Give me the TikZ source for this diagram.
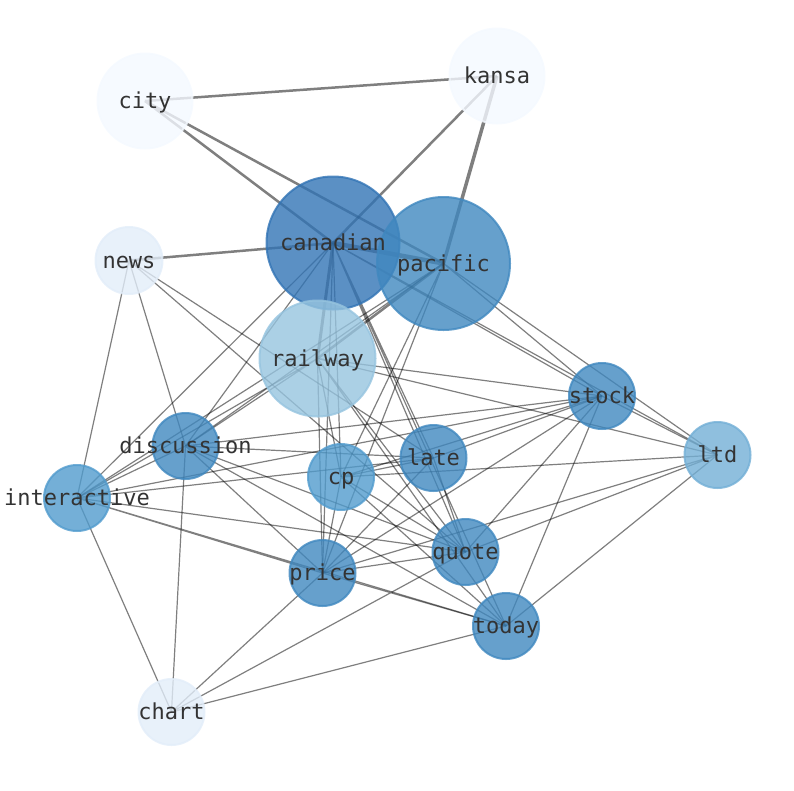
\documentclass[tikz,border=0pt]{standalone}
\usepackage{xcolor}
\usepackage{fontspec}
\setmonofont{DejaVu Sans Mono}
\usepackage{tikz}
\usetikzlibrary{backgrounds}

\definecolor{wordDark}{RGB}{50,116,181}
\definecolor{wordMid}{RGB}{64,136,191}
\definecolor{wordSoft}{RGB}{81,155,205}
\definecolor{wordLight}{RGB}{115,175,214}
\definecolor{wordPale}{RGB}{150,196,223}
\definecolor{wordFaint}{RGB}{226,237,249}
\definecolor{wordWhite}{RGB}{244,249,255}

\begin{document}
\begin{tikzpicture}[x=1pt,y=-1pt,
    word/.style={circle, inner sep=0pt, line width=2pt, fill opacity=0.8, draw opacity=0.8},
    tag/.style={inner sep=0pt, yshift=-4pt, text=black!80, font=\ttfamily\fontsize{22}{22}\selectfont, text height=0.95em, text depth=0.22em},
    link/.style={draw=black, draw opacity=0.5, line width=1.2pt},
    heavy/.style={draw=black, draw opacity=0.5, line width=2.5pt}]

    \useasboundingbox (0,0) rectangle (794,790);

    % words
    \node [word, minimum size=95, fill=wordWhite, draw=wordWhite] (city) at (145,101) {};
    \node [word, minimum size=95, fill=wordWhite, draw=wordWhite] (kansa) at (497,76) {};
    \node [word, minimum size=133, fill=wordDark, draw=wordDark] (canadian) at (333,243) {};
    \node [word, minimum size=133, fill=wordMid, draw=wordMid] (pacific) at (443.5,263.5) {};
    \node [word, minimum size=67, fill=wordFaint, draw=wordFaint] (news) at (129,260.5) {};
    \node [word, minimum size=116, fill=wordPale, draw=wordPale] (railway) at (317.5,358.5) {};
    \node [word, minimum size=66, fill=wordMid, draw=wordMid] (stock) at (602,396) {};
    \node [word, minimum size=66, fill=wordLight, draw=wordLight] (ltd) at (717.5,455) {};
    \node [word, minimum size=66, fill=wordMid, draw=wordMid] (discussion) at (185.5,446) {};
    \node [word, minimum size=66, fill=wordSoft, draw=wordSoft] (interactive) at (77,498) {};
    \node [word, minimum size=66, fill=wordSoft, draw=wordSoft] (cp) at (341,477) {};
    \node [word, minimum size=66, fill=wordMid, draw=wordMid] (late) at (433.5,458) {};
    \node [word, minimum size=66, fill=wordMid, draw=wordMid] (quote) at (465.5,552) {};
    \node [word, minimum size=66, fill=wordMid, draw=wordMid] (price) at (322.5,573) {};
    \node [word, minimum size=66, fill=wordMid, draw=wordMid] (today) at (506,626) {};
    \node [word, minimum size=66, fill=wordFaint, draw=wordFaint] (chart) at (171.5,712) {};

    % links, under the words
    \begin{scope}[on background layer]
    \draw [heavy] (city.center) -- (kansa.center) (city.center) -- (canadian.center) (city.center) -- (pacific.center);
    \draw [heavy] (kansa.center) -- (canadian.center) (news.center) -- (canadian.center) (pacific.center) -- (railway.center);
    \draw [heavy, line width=3.5pt] (kansa.center) -- (pacific.center);
    \draw [heavy, line width=3pt] (canadian.center) -- (railway.center);
    \draw [heavy, line width=4.5pt] (canadian.center) -- (pacific.center);

    \draw [link] (news.center) -- (interactive.center) (news.center) -- (discussion.center) (news.center) -- (late.center) (news.center) -- (quote.center);
    \draw [link] (canadian.center) -- (discussion.center) (canadian.center) -- (interactive.center) (canadian.center) -- (cp.center) (canadian.center) -- (price.center) (canadian.center) -- (late.center) (canadian.center) -- (quote.center) (canadian.center) -- (today.center) (canadian.center) -- (stock.center) (canadian.center) -- (ltd.center);
    \draw [link] (pacific.center) -- (discussion.center) (pacific.center) -- (interactive.center) (pacific.center) -- (cp.center) (pacific.center) -- (price.center) (pacific.center) -- (stock.center) (pacific.center) -- (ltd.center);
    \draw [link] (railway.center) -- (interactive.center) (railway.center) -- (discussion.center) (railway.center) -- (stock.center) (railway.center) -- (ltd.center) (railway.center) -- (price.center) (railway.center) -- (cp.center) (railway.center) -- (today.center) (railway.center) -- (quote.center);
    \draw [link] (discussion.center) -- (interactive.center) (discussion.center) -- (chart.center) (discussion.center) -- (stock.center) (discussion.center) -- (late.center) (discussion.center) -- (quote.center) (discussion.center) -- (today.center) (discussion.center) -- (price.center);
    \draw [link] (interactive.center) -- (chart.center) (interactive.center) -- (late.center) (interactive.center) -- (stock.center) (interactive.center) -- (quote.center) (interactive.center) -- (price.center) (interactive.center) -- (today.center);
    \draw [link] (cp.center) -- (stock.center) (cp.center) -- (ltd.center) (cp.center) -- (quote.center) (cp.center) -- (today.center) (cp.center) -- (price.center) (cp.center) -- (late.center);
    \draw [link] (late.center) -- (stock.center) (late.center) -- (price.center) (late.center) -- (quote.center);
    \draw [link] (stock.center) -- (ltd.center) (stock.center) -- (price.center) (stock.center) -- (quote.center) (stock.center) -- (today.center);
    \draw [link] (ltd.center) -- (price.center) (ltd.center) -- (quote.center) (ltd.center) -- (today.center);
    \draw [link] (quote.center) -- (price.center) (quote.center) -- (chart.center) (price.center) -- (today.center) (price.center) -- (chart.center) (today.center) -- (chart.center);
    \end{scope}

    % labels
    \node [tag] at (city) {city};
    \node [tag] at (kansa) {kansa};
    \node [tag] at (canadian) {canadian};
    \node [tag] at (pacific) {pacific};
    \node [tag] at (news) {news};
    \node [tag] at (railway) {railway};
    \node [tag] at (stock) {stock};
    \node [tag] at (ltd) {ltd};
    \node [tag] at (discussion) {discussion};
    \node [tag] at (interactive) {interactive};
    \node [tag] at (cp) {cp};
    \node [tag] at (late) {late};
    \node [tag] at (quote) {quote};
    \node [tag] at (price) {price};
    \node [tag] at (today) {today};
    \node [tag] at (chart) {chart};

\end{tikzpicture}
\end{document}
